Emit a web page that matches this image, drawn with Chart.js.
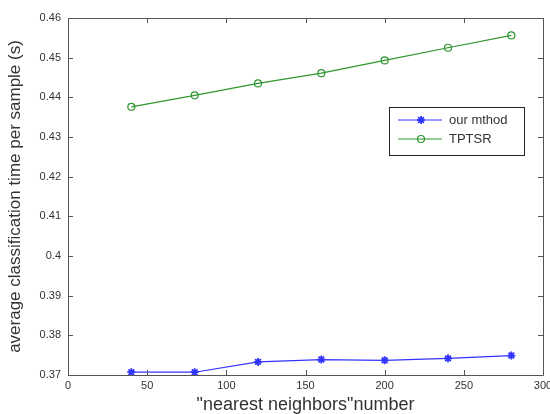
<!DOCTYPE html>
<html lang="en">
<head>
<meta charset="UTF-8">
<title>Classification time vs nearest neighbors</title>
<script src="https://cdn.jsdelivr.net/npm/chart.js"></script>
<style>
  html, body { margin: 0; padding: 0; background: #fff; }
  #wrap { width: 550px; height: 414px; }
</style>
</head>
<body>
<div id="wrap"><canvas id="chart" width="550" height="414"></canvas></div>
<script>
// values
const neighbors = [40, 80, 120, 160, 200, 240, 280];
const ourMethod = [0.3707, 0.3707, 0.3733, 0.3739, 0.3737, 0.3742, 0.3749];
const tptsr = [0.4376, 0.4405, 0.4435, 0.4461, 0.4493, 0.4525, 0.4556];
const seriesNames = ['our mthod', 'TPTSR'];
const xTicks = [0, 50, 100, 150, 200, 250, 300];
const yTicks = [0.37, 0.38, 0.39, 0.40, 0.41, 0.42, 0.43, 0.44, 0.45, 0.46];

const blue = '#3333ff';
const green = '#2f962f';
const axisColor = '#555';
const textColor = '#333';

function pts(ys) {
    return neighbors.map((x, i) => ({ x: x, y: ys[i] }));
}

// matlab style box with inward ticks on all sides
const boxPlugin = {
    id: 'box',
    afterDraw(chart) {
        const ctx = chart.ctx;
        const a = chart.chartArea;
        const xs = chart.scales.x, ys = chart.scales.y;
        ctx.save();
        ctx.strokeStyle = axisColor;
        ctx.lineWidth = 1;
        ctx.beginPath();
        ctx.rect(Math.round(a.left) + 0.5, Math.round(a.top) + 0.5,
                 Math.round(a.right - a.left), Math.round(a.bottom - a.top));
        const len = 5;
        xTicks.forEach(v => {
            const px = Math.round(xs.getPixelForValue(v)) + 0.5;
            ctx.moveTo(px, a.bottom); ctx.lineTo(px, a.bottom - len);
            ctx.moveTo(px, a.top); ctx.lineTo(px, a.top + len);
        });
        yTicks.forEach(v => {
            const py = Math.round(ys.getPixelForValue(v)) + 0.5;
            ctx.moveTo(a.left, py); ctx.lineTo(a.left + len, py);
            ctx.moveTo(a.right, py); ctx.lineTo(a.right - len, py);
        });
        ctx.stroke();

        // legend box inside the plot
        const bx = 389.5, by = 107.5, bw = 135, bh = 48;
        ctx.fillStyle = '#fff';
        ctx.fillRect(bx, by, bw, bh);
        ctx.strokeStyle = '#222';
        ctx.strokeRect(bx, by, bw, bh);
        ctx.font = '13px "Liberation Sans", Arial, sans-serif';
        ctx.textBaseline = 'middle';
        chart.data.datasets.forEach((ds, i) => {
            const y = 120 + i * 19;
            ctx.strokeStyle = ds.borderColor;
            ctx.lineWidth = 1;
            ctx.beginPath();
            ctx.moveTo(398, y); ctx.lineTo(442, y);
            ctx.stroke();
            ctx.fillStyle = ds.backgroundColor;
            ctx.lineWidth = ds.pointBorderWidth;
            Chart.helpers.drawPoint(ctx, {
                pointStyle: ds.pointStyle, radius: ds.pointRadius, borderWidth: ds.pointBorderWidth
            }, 421, y);
            ctx.fillStyle = textColor;
            ctx.fillText(seriesNames[i], 449, y);
        });
        ctx.restore();
    }
};

const fontFam = '"Liberation Sans", Arial, sans-serif';

new Chart(document.getElementById('chart'), {
    type: 'line',
    data: {
        datasets: [
            {
                label: seriesNames[0],
                data: pts(ourMethod),
                borderColor: blue,
                backgroundColor: blue,
                borderWidth: 1.2,
                pointStyle: 'star',
                pointRadius: 4,
                pointBorderWidth: 1.8,
                tension: 0
            },
            {
                label: seriesNames[1],
                data: pts(tptsr),
                borderColor: green,
                backgroundColor: 'rgba(0,0,0,0)',
                borderWidth: 1.2,
                pointStyle: 'circle',
                pointRadius: 3.5,
                pointBorderWidth: 1.2,
                tension: 0
            }
        ]
    },
    options: {
        responsive: false,
        animation: false,
        events: [],
        layout: { padding: { top: 18, right: 7, left: 0, bottom: 0 } },
        plugins: {
            legend: { display: false },
            tooltip: { enabled: false }
        },
        scales: {
            x: {
                type: 'linear',
                min: 0, max: 300,
                grid: { display: false, drawTicks: false },
                border: { display: false },
                ticks: {
                    stepSize: 50,
                    padding: 4,
                    color: textColor,
                    font: { family: fontFam, size: 11 }
                },
                title: {
                    display: true,
                    text: '"nearest neighbors"number',
                    color: textColor,
                    padding: { top: 0, bottom: 0 },
                    font: { family: fontFam, size: 18, lineHeight: 1 }
                },
                afterFit(scale) {
                    scale.height = 39;
                    scale.paddingLeft = 0;
                    scale.paddingRight = 0;
                }
            },
            y: {
                min: 0.37, max: 0.46,
                grid: { display: false, drawTicks: false },
                border: { display: false },
                ticks: {
                    stepSize: 0.01,
                    padding: 7,
                    color: textColor,
                    font: { family: fontFam, size: 11 },
                    callback: v => String(Number(v.toFixed(2)))
                },
                title: {
                    display: true,
                    text: 'average classification time per sample (s)',
                    color: textColor,
                    padding: { top: 5, bottom: 0 },
                    font: { family: fontFam, size: 17 }
                },
                afterFit(scale) {
                    scale.width = 68;
                    scale.paddingTop = 0;
                    scale.paddingBottom = 0;
                }
            }
        }
    },
    plugins: [boxPlugin]
});
</script>
</body>
</html>
